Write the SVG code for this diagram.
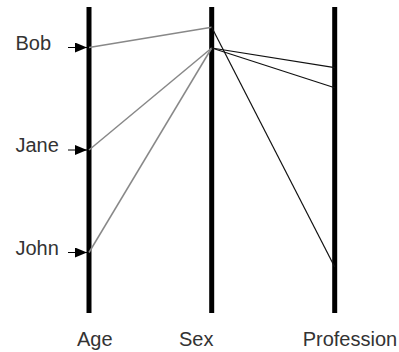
<svg xmlns="http://www.w3.org/2000/svg" width="399" height="352" viewBox="0 0 399 352">
<style>
.axis{stroke:#000;stroke-width:5;fill:none}
.lbl{font-family:"Liberation Sans",Arial,sans-serif;font-size:20px;fill:#333}
.g{stroke:#888;stroke-width:1.5;fill:none}
.k{stroke:#111;stroke-width:1.2;fill:none}
.ptr{stroke:#000;stroke-width:1;fill:none}
</style>
<defs>
<marker id="ah" markerWidth="12" markerHeight="10" refX="12" refY="5" orient="auto" markerUnits="userSpaceOnUse">
<path d="M0,0 L12,5 L0,10 Z" fill="#000"/>
</marker>
</defs>
<g id="axis-age"><line class="axis" x1="89" y1="7" x2="89" y2="313"/><text class="lbl" x="77" y="346">Age</text></g>
<g id="axis-sex"><line class="axis" x1="211.7" y1="7" x2="211.7" y2="313"/><text class="lbl" x="179" y="346">Sex</text></g>
<g id="axis-profession"><line class="axis" x1="334.7" y1="7" x2="334.7" y2="313"/><text class="lbl" x="302.7" y="346">Profession</text></g>
<g id="bob"><text class="lbl" x="15.5" y="49.5">Bob</text><line class="ptr" x1="68" y1="47.5" x2="87" y2="47.5" marker-end="url(#ah)"/></g>
<g id="jane"><text class="lbl" x="15.5" y="152.3">Jane</text><line class="ptr" x1="68" y1="150" x2="87" y2="150" marker-end="url(#ah)"/></g>
<g id="john"><text class="lbl" x="15.5" y="255">John</text><line class="ptr" x1="68" y1="252.5" x2="87" y2="252.5" marker-end="url(#ah)"/></g>
<g id="connectors">
<line class="g" x1="89" y1="47.5" x2="211.7" y2="27.3"/>
<line class="g" x1="89" y1="150" x2="211.7" y2="48"/>
<line class="g" x1="89" y1="252.5" x2="211.7" y2="48"/>
<line class="k" x1="211.7" y1="27.3" x2="334.7" y2="267"/>
<line class="k" x1="211.7" y1="48" x2="334.7" y2="67.7"/>
<line class="k" x1="211.7" y1="48" x2="334.7" y2="87.7"/>
</g>
</svg>
